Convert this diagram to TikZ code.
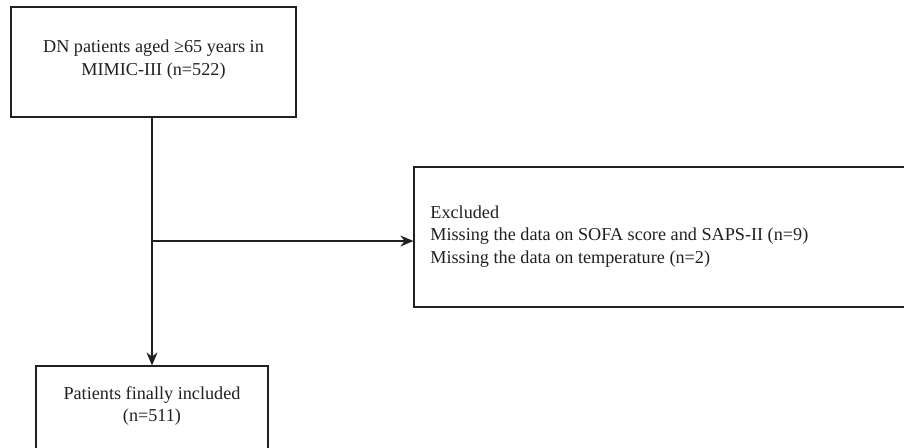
\documentclass[tikz,border=0pt]{standalone}
\usepackage{fontspec}
\setmainfont{Liberation Serif}
\usetikzlibrary{arrows.meta}
\definecolor{ink}{HTML}{231F20}
\begin{document}
\begin{tikzpicture}[x=0.5pt,y=-0.5pt,
	frame/.style={draw=ink,line width=0.6pt,inner sep=0pt},
	txt/.style={text=ink,font=\fontsize{9.1}{11.4}\selectfont,inner sep=0pt},
	arr/.style={draw=ink,line width=0.6pt,-{Stealth[length=6.5pt,width=5.5pt]}}]
	\useasboundingbox (0,0) rectangle (904,447);
	\clip (0,0) rectangle (904,447);
	\node[frame,minimum width=142.5pt,minimum height=55pt] (startbox) at (153.5,62) {};
	\node[txt,align=center] (starttext) at (153.5,60) {DN patients aged ≥65 years in\\MIMIC-III (n=522)};
	\node[frame,minimum width=249pt,minimum height=70pt] (exclbox) at (663,237) {};
	\node[txt,align=left,anchor=west] (excltext) at (430,236.5) {Excluded\\Missing the data on SOFA score and SAPS-II (n=9)\\Missing the data on temperature (n=2)};
	\node[frame,minimum width=116pt,minimum height=60pt] (inclbox) at (152,426) {};
	\node[txt,align=center] (incltext) at (152,406) {Patients finally included\\(n=511)};
	\coordinate (branch) at (152,241);
	\draw[arr] (startbox.south -| inclbox.north) -- (inclbox.north);
	\draw[arr] (branch) -- (branch -| exclbox.west);
\end{tikzpicture}
\end{document}
